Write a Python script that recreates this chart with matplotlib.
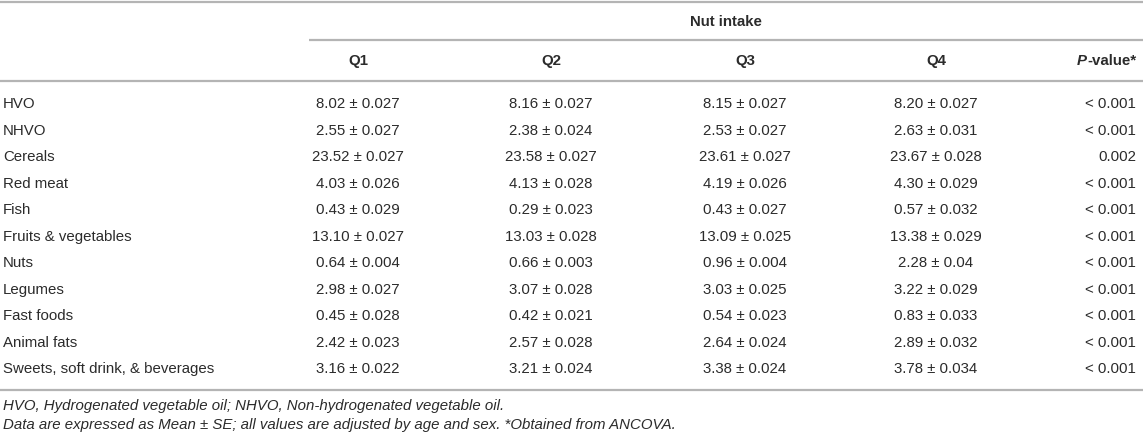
"""Nut intake quartile table rendered with matplotlib."""
import matplotlib
matplotlib.use("Agg")
import matplotlib.pyplot as plt

foods = [
    "HVO", "NHVO", "Cereals", "Red meat", "Fish", "Fruits & vegetables",
    "Nuts", "Legumes", "Fast foods", "Animal fats",
    "Sweets, soft drink, & beverages",
]
q1 = ["8.02 ± 0.027", "2.55 ± 0.027", "23.52 ± 0.027", "4.03 ± 0.026",
      "0.43 ± 0.029", "13.10 ± 0.027", "0.64 ± 0.004", "2.98 ± 0.027",
      "0.45 ± 0.028", "2.42 ± 0.023", "3.16 ± 0.022"]
q2 = ["8.16 ± 0.027", "2.38 ± 0.024", "23.58 ± 0.027", "4.13 ± 0.028",
      "0.29 ± 0.023", "13.03 ± 0.028", "0.66 ± 0.003", "3.07 ± 0.028",
      "0.42 ± 0.021", "2.57 ± 0.028", "3.21 ± 0.024"]
q3 = ["8.15 ± 0.027", "2.53 ± 0.027", "23.61 ± 0.027", "4.19 ± 0.026",
      "0.43 ± 0.027", "13.09 ± 0.025", "0.96 ± 0.004", "3.03 ± 0.025",
      "0.54 ± 0.023", "2.64 ± 0.024", "3.38 ± 0.024"]
q4 = ["8.20 ± 0.027", "2.63 ± 0.031", "23.67 ± 0.028", "4.30 ± 0.029",
      "0.57 ± 0.032", "13.38 ± 0.029", "2.28 ± 0.04", "3.22 ± 0.029",
      "0.83 ± 0.033", "2.89 ± 0.032", "3.78 ± 0.034"]
p_values = ["< 0.001", "< 0.001", "0.002", "< 0.001", "< 0.001", "< 0.001",
            "< 0.001", "< 0.001", "< 0.001", "< 0.001", "< 0.001"]
quartiles = ["Q1", "Q2", "Q3", "Q4"]
group_title = "Nut intake"
footnotes = [
    "HVO, Hydrogenated vegetable oil; NHVO, Non-hydrogenated vegetable oil.",
    "Data are expressed as Mean ± SE; all values are adjusted by age and sex. "
    "*Obtained from ANCOVA.",
]

W, H = 1143, 436
TXT = "#2b2b2b"
RULE = "#b4b4b4"
FS = 10.8

plt.rcParams["font.family"] = ["Liberation Sans", "DejaVu Sans"]

fig = plt.figure(figsize=(W / 100, H / 100), dpi=100)
ax = fig.add_axes([0, 0, 1, 1])
ax.set_xlim(0, W)
ax.set_ylim(H, 0)
ax.axis("off")

col_x = [358, 551, 745, 936]
p_right = 1136
left = 3
row_y0, row_h = 104, 26.5


def rule(y, x0=0, x1=W):
    ax.plot([x0, x1], [y, y], color=RULE, lw=1.6, solid_capstyle="butt")


# rules
rule(2)
rule(40, x0=309)
rule(81)
rule(row_y0 + row_h * (len(foods) - 1) + 20.5)

# header
ax.text((309 + W) / 2, 22, group_title, ha="center", va="center",
        fontsize=FS, fontweight="bold", color=TXT)
for x, q in zip(col_x, quartiles):
    ax.text(x, 61, q, ha="center", va="center", fontsize=FS,
            fontweight="bold", color=TXT)
pv = ax.text(p_right, 61, "-value*", ha="right", va="center", fontsize=FS,
             fontweight="bold", color=TXT)
fig.canvas.draw()
bb = pv.get_window_extent()
x_left = ax.transData.inverted().transform((bb.x0, bb.y0))[0]
ax.text(x_left, 61, "P", ha="right", va="center", fontsize=FS,
        fontweight="bold", fontstyle="italic", color=TXT)

# body
for i, food in enumerate(foods):
    y = row_y0 + i * row_h
    ax.text(left, y, food, ha="left", va="center", fontsize=FS, color=TXT)
    for x, col in zip(col_x, [q1, q2, q3, q4]):
        ax.text(x, y, col[i], ha="center", va="center", fontsize=FS, color=TXT)
    ax.text(p_right, y, p_values[i], ha="right", va="center", fontsize=FS,
            color=TXT)

# footnotes
for j, note in enumerate(footnotes):
    ax.text(left, 406 + j * 19, note, ha="left", va="center", fontsize=FS,
            fontstyle="italic", color=TXT)

fig.savefig("out.png", dpi=100)
